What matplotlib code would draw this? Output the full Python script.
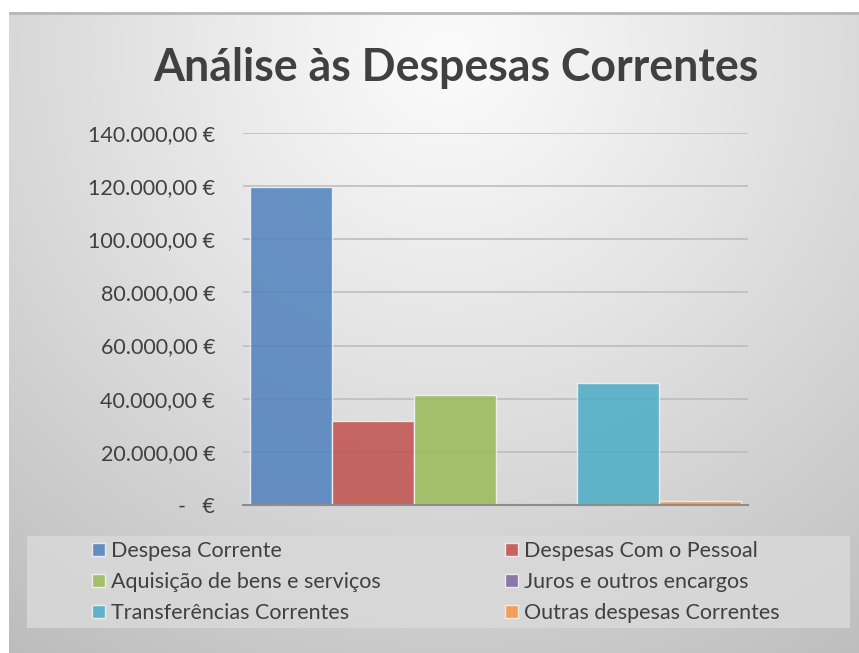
import numpy as np
import matplotlib
matplotlib.use("Agg")
import matplotlib.pyplot as plt
from matplotlib.patches import Rectangle, Patch
from matplotlib.ticker import FuncFormatter, MultipleLocator

# ---- data ----
series = ["Despesa Corrente", "Despesas Com o Pessoal", "Aquisição de bens e serviços",
          "Juros e outros encargos", "Transferências Correntes", "Outras despesas Correntes"]
values = [119800, 31700, 41500, 0, 46000, 1500]
colors = ["#4F81BD", "#C0504D", "#9BBB59", "#8064A2", "#4BACC6", "#F79646"]
title = "Análise às Despesas Correntes"

W, H = 859, 653
fig = plt.figure(figsize=(W / 100, H / 100), dpi=100)
fig.patch.set_facecolor("white")

# background chart area with radial gradient
bg = fig.add_axes([9 / W, 0, (W - 9) / W, (H - 12) / H])
bg.set_axis_off()
yy, xx = np.mgrid[0:641, 0:850]
cx, cy = 440, 40
d = np.sqrt(((xx - cx) / 700.0) ** 2 + ((yy - cy) / 700.0) ** 2)
lum = 0.985 - 0.23 * np.clip(d, 0, 1.2) ** 1.1
img = np.dstack([lum, lum, lum])
bg.imshow(img, aspect="auto", extent=[0, 1, 0, 1], origin="upper")
bg.set_xlim(0, 1)
bg.set_ylim(0, 1)
bg.plot([0, 1], [0.999, 0.999], color="#b8b8b8", lw=2)

# legend box
fig.patches.append(Rectangle((27 / W, 1 - 628 / H), (850 - 27) / W, (628 - 536) / H,
                             transform=fig.transFigure, facecolor="#d9d9d9",
                             edgecolor="none", alpha=0.85, zorder=1))

ax = fig.add_axes([243 / W, 1 - 505 / H, (748 - 243) / W, (505 - 133) / H])
ax.set_facecolor("none")
x = np.arange(len(series))
ax.bar(x, values, width=1.0, color=colors, alpha=0.85, edgecolor="#f4f4f4",
       linewidth=1.0, zorder=3)
ax.set_xlim(-0.585, 5.585)
ax.set_ylim(0, 140000)
ax.yaxis.set_major_locator(MultipleLocator(20000))

def fmt(v, pos):
    if v == 0:
        return "-   €"
    s = f"{v:,.2f}".replace(",", "X").replace(".", ",").replace("X", ".")
    return s + " €"

ax.yaxis.set_major_formatter(FuncFormatter(fmt))
ax.tick_params(axis="y", length=0, pad=20, labelsize=15.5, labelcolor="#404040")
ax.set_xticks([])
for lab in ax.get_yticklabels():
    lab.set_family("Lato")
ax.grid(axis="y", color="#bdbdbd", linewidth=1.2, zorder=0)
for s in ["top", "right", "left"]:
    ax.spines[s].set_visible(False)
ax.spines["bottom"].set_color("#8c8c8c")
ax.spines["bottom"].set_linewidth(1.5)
ax.spines["bottom"].set_zorder(4)

fig.text(456 / W, 1 - 68 / H, title, ha="center", va="center", fontsize=32.1,
         fontweight="bold", family="Lato", color="#404040")

# legend (row-wise order: reorder for column-major filling)
order = [0, 2, 4, 1, 3, 5]
handles = [Patch(facecolor=colors[i], alpha=0.85, edgecolor="#f4f4f4") for i in order]
labels = [series[i] for i in order]
leg = fig.legend(handles, labels, ncol=2, loc="upper left",
                 bbox_to_anchor=(92 / W, 1 - 541 / H), frameon=False,
                 borderpad=0, borderaxespad=0,
                 prop={"family": "Lato", "size": 15.5}, labelcolor="#404040",
                 handlelength=0.6, handleheight=0.6, handletextpad=0.28,
                 columnspacing=5.77, labelspacing=0.51)

fig.savefig("out.png", dpi=100)
